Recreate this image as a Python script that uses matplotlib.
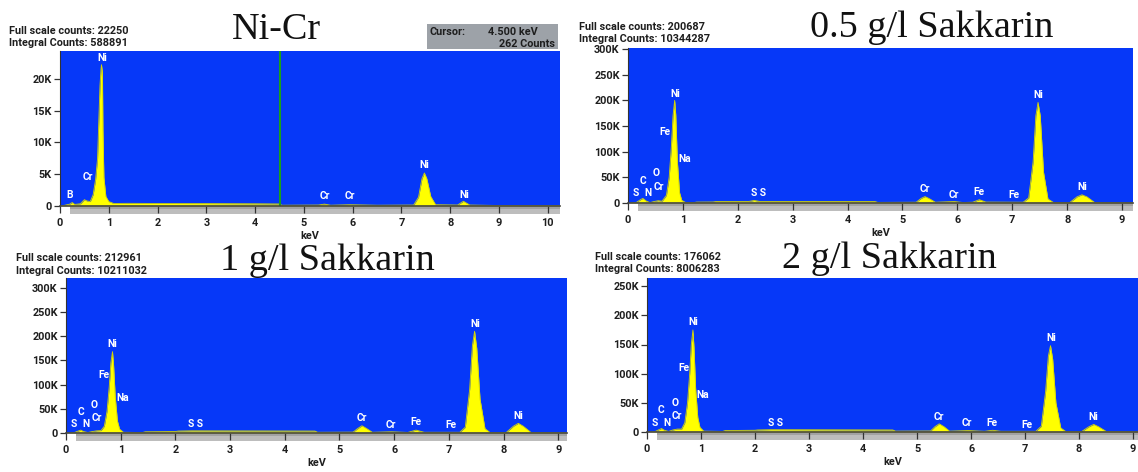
import matplotlib
matplotlib.use("Agg")
import matplotlib.pyplot as plt
from matplotlib.ticker import FuncFormatter
from matplotlib.patches import Rectangle

# EDS spectra: energy (keV) and counts for each coating
nicr_kev = [0.00, 0.10, 0.20, 0.25, 0.30, 0.42, 0.50, 0.55, 0.62, 0.68, 0.73, 0.77, 0.80, 0.82, 0.84,
            0.85, 0.87, 0.88, 0.90, 0.94, 1.00, 1.10, 1.40, 2.00, 3.00, 4.00, 4.50, 4.55, 5.30, 5.42,
            5.55, 5.94, 6.50, 7.25, 7.35, 7.42, 7.47, 7.52, 7.60, 7.70, 8.15, 8.27, 8.40, 9.00, 10.25]
nicr_counts = [0, 120, 300, 550, 250, 350, 1000, 800, 700, 1800, 4200, 7500, 14500, 19000, 21500,
               22250, 21000, 12000, 4500, 1500, 700, 400, 420, 400, 380, 350, 320, 120, 150, 300,
               120, 200, 120, 150, 1400, 4300, 5200, 4300, 1500, 200, 150, 750, 150, 80, 60]

s05_kev = [0.00, 0.15, 0.22, 0.27, 0.33, 0.40, 0.48, 0.55, 0.62, 0.70, 0.75, 0.79, 0.82, 0.85, 0.87,
           0.90, 0.94, 0.98, 1.05, 1.20, 1.25, 1.55, 1.60, 2.20, 2.30, 2.40, 4.50, 4.55, 5.25, 5.34,
           5.41, 5.48, 5.60, 5.85, 5.95, 6.10, 6.28, 6.40, 6.52, 7.20, 7.30, 7.38, 7.43, 7.47, 7.51,
           7.57, 7.65, 7.75, 8.05, 8.18, 8.27, 8.36, 8.50, 9.20]
s05_counts = [0, 1000, 6000, 9000, 4000, 800, 3000, 4500, 3500, 15000, 50000, 110000, 170000, 200000, 172000,
              80000, 20000, 5000, 1000, 800, 1800, 2000, 2800, 3000, 5000, 3000, 2800, 1200, 1500, 9000,
              12500, 9000, 1500, 2500, 2800, 1000, 1500, 6500, 1800, 1500, 10000, 80000, 170000, 196000, 170000,
              60000, 8000, 1000, 1000, 12000, 16000, 12000, 1000, 500]

s1_kev = [0.00, 0.15, 0.22, 0.27, 0.32, 0.40, 0.48, 0.56, 0.64, 0.70, 0.75, 0.79, 0.82, 0.85, 0.87,
          0.90, 0.94, 0.98, 1.05, 1.40, 1.45, 2.00, 2.05, 2.30, 4.55, 4.60, 5.25, 5.33, 5.41, 5.50,
          5.60, 5.95, 6.25, 6.40, 6.55, 7.20, 7.30, 7.38, 7.43, 7.47, 7.51, 7.57, 7.66, 7.75, 8.05,
          8.18, 8.27, 8.36, 8.50, 9.16]
s1_counts = [0, 800, 4000, 6000, 3000, 1000, 3000, 4500, 5000, 14000, 45000, 95000, 145000, 168000, 140000,
             75000, 25000, 8000, 1500, 1000, 2500, 3000, 4000, 4500, 4000, 1500, 1800, 9000, 15000, 9000,
             1500, 2500, 1200, 6000, 1500, 1500, 12000, 90000, 180000, 210000, 175000, 70000, 9000, 1200, 1200,
             14000, 20000, 14000, 1200, 500]

s2_kev = [0.00, 0.15, 0.22, 0.27, 0.32, 0.40, 0.48, 0.56, 0.64, 0.70, 0.75, 0.79, 0.82, 0.85, 0.87,
          0.90, 0.94, 0.98, 1.05, 1.40, 1.45, 2.00, 2.05, 2.30, 4.55, 4.60, 5.25, 5.33, 5.41, 5.50,
          5.60, 5.95, 6.25, 6.40, 6.55, 7.20, 7.30, 7.38, 7.43, 7.47, 7.51, 7.57, 7.66, 7.75, 8.05,
          8.18, 8.27, 8.36, 8.50, 9.09]
s2_counts = [0, 800, 4000, 6000, 3000, 1000, 3500, 5000, 5000, 16000, 50000, 100000, 150000, 175000, 145000,
             75000, 25000, 8000, 1500, 1000, 2500, 3000, 3500, 4000, 3500, 1500, 1800, 9000, 14000, 9000,
             1500, 2500, 1200, 3000, 1200, 1200, 10000, 70000, 130000, 148000, 125000, 50000, 7000, 1000, 1000,
             9000, 13000, 9000, 1000, 500]

# element markers: (symbol, keV, counts)
nicr_marks = [("B", 0.19, 1800), ("Cr", 0.57, 4500), ("Ni", 0.86, 23300), ("Cr", 5.42, 1600),
              ("Cr", 5.94, 1500), ("Ni", 7.47, 6500), ("Ni", 8.29, 1800)]
s05_marks = [("S", 0.15, 19000), ("N", 0.37, 19000), ("C", 0.27, 43000), ("O", 0.52, 58000),
             ("Cr", 0.57, 32000), ("Fe", 0.68, 138000), ("Ni", 0.86, 212000), ("Na", 1.04, 86000),
             ("S S", 2.38, 19000), ("Cr", 5.41, 27000), ("Cr", 5.94, 16000), ("Fe", 6.40, 21000),
             ("Fe", 7.04, 16000), ("Ni", 7.48, 210000), ("Ni", 8.27, 32000)]
s1_marks = [("S", 0.14, 18000), ("N", 0.37, 18000), ("C", 0.27, 44000), ("O", 0.52, 58000),
            ("Cr", 0.57, 31000), ("Fe", 0.70, 119000), ("Ni", 0.85, 183000), ("Na", 1.03, 72000),
            ("S S", 2.37, 18000), ("Cr", 5.41, 31000), ("Cr", 5.94, 17000), ("Fe", 6.39, 23000),
            ("Fe", 7.04, 17000), ("Ni", 7.48, 226000), ("Ni", 8.27, 35000)]
s2_marks = [("S", 0.14, 15000), ("N", 0.37, 15000), ("C", 0.26, 37000), ("O", 0.52, 49000),
            ("Cr", 0.56, 27000), ("Fe", 0.69, 110000), ("Ni", 0.85, 188000), ("Na", 1.03, 64000),
            ("S S", 2.38, 16000), ("Cr", 5.41, 26000), ("Cr", 5.93, 15000), ("Fe", 6.39, 15000),
            ("Fe", 7.04, 12000), ("Ni", 7.48, 161000), ("Ni", 8.27, 26000)]

titles = ["Ni-Cr", "0.5 g/l Sakkarin", "1 g/l Sakkarin", "2 g/l Sakkarin"]
full_scale = [22250, 200687, 212961, 176062]
integral = [588891, 10344287, 10211032, 8006283]

W, H = 1138, 472
BLUE = "#0638f8"
SANS = ["Roboto", "DejaVu Sans"]
SMALL = 7.8
INK = "#1e1e1e"


def px(x, y):
    return x / W, 1 - y / H


def k_fmt(v, pos):
    return "0" if v == 0 else "%dK" % round(v / 1000)


def draw_panel(ax, kev, counts, marks, xmax, ymax, yticks, xticks):
    ax.set_facecolor(BLUE)
    ax.fill_between(kev, counts, 0, color="#ffff00", lw=0, zorder=2)
    ax.plot(kev, counts, color="#d6d600", lw=0.6, zorder=2)
    for name, x, y in marks:
        ax.text(x, y, name, color="white", fontsize=7.4, fontweight="bold",
                family=SANS, ha="center", va="center", zorder=3)
    ax.set_xlim(0, xmax)
    ax.set_ylim(0, ymax)
    ax.set_xticks(xticks)
    ax.set_yticks(yticks)
    ax.yaxis.set_major_formatter(FuncFormatter(k_fmt))
    ax.spines["top"].set_visible(False)
    ax.spines["right"].set_visible(False)
    ax.spines["left"].set_color("#333333")
    ax.spines["left"].set_linewidth(0.8)
    ax.spines["bottom"].set_color("#444444")
    ax.spines["bottom"].set_linewidth(1.2)
    ax.tick_params(direction="out", length=4, width=0.9, color="#333333",
                   labelsize=SMALL, pad=2, labelcolor=INK)
    ax.tick_params(axis="x", length=5, pad=3.5)
    for lab in ax.get_xticklabels() + ax.get_yticklabels():
        lab.set_fontweight("bold")
        lab.set_family(SANS)
    ax.set_xlabel("keV", fontsize=SMALL, fontweight="bold", family=SANS, labelpad=2.5, color=INK)
    # grey drop shadow under the spectrum window
    ax.add_patch(Rectangle((0.02, -0.05), 0.98, 0.05, transform=ax.transAxes,
                           color="#bdbdbd", lw=0, clip_on=False, zorder=0))
    ax.add_patch(Rectangle((0.02, -0.02), 0.98, 0.02, transform=ax.transAxes,
                           color="#a2a2a2", lw=0, clip_on=False, zorder=0))


fig = plt.figure(figsize=(W / 100, H / 100), dpi=100)
fig.patch.set_facecolor("white")

boxes = [(60, 51, 560, 206), (628, 48, 1133, 203), (66, 278, 567, 433), (647, 278, 1138, 432)]
axes = []
for (x0, y0, x1, y1) in boxes:
    axes.append(fig.add_axes([x0 / W, 1 - y1 / H, (x1 - x0) / W, (y1 - y0) / H]))

draw_panel(axes[0], nicr_kev, nicr_counts, nicr_marks, 10.25, 24400,
           range(0, 20001, 5000), range(0, 11))
draw_panel(axes[1], s05_kev, s05_counts, s05_marks, 9.2, 302000,
           range(0, 300001, 50000), range(0, 10))
draw_panel(axes[2], s1_kev, s1_counts, s1_marks, 9.16, 320000,
           range(0, 300001, 50000), range(0, 10))
draw_panel(axes[3], s2_kev, s2_counts, s2_marks, 9.09, 264000,
           range(0, 250001, 50000), range(0, 10))

# cursor marker on the Ni-Cr spectrum
axes[0].axvline(4.5, color="#1aa01a", lw=1.5, zorder=2.5)

# panel headings
title_pos = [(276, 39), (932, 37), (327, 270), (889, 268)]
for t, (x, y) in zip(titles, title_pos):
    fig.text(*px(x, y), t, family=["Liberation Serif", "DejaVu Serif"], fontsize=27.5,
             ha="center", va="baseline", color="#111111")

info_pos = [(9, 31), (579, 27), (16, 258), (595, 257)]
for fs, ic, (x, y) in zip(full_scale, integral, info_pos):
    fig.text(*px(x, y), "Full scale counts: %d" % fs, family=SANS, fontsize=SMALL,
             fontweight="bold", va="center", color=INK)
    fig.text(*px(x, y + 12.5), "Integral Counts: %d" % ic, family=SANS, fontsize=SMALL,
             fontweight="bold", va="center", color=INK)

# cursor read-out box
fig.patches.append(Rectangle(px(427, 49), 131 / W, 25 / H, transform=fig.transFigure,
                             facecolor="#9da2a8", edgecolor="none"))
fig.text(*px(429, 32), "Cursor:", family=SANS, fontsize=SMALL, fontweight="bold",
         va="center", color=INK)
fig.text(*px(538, 32), "4.500 keV", family=SANS, fontsize=SMALL, fontweight="bold",
         va="center", ha="right", color=INK)
fig.text(*px(555, 44), "262 Counts", family=SANS, fontsize=SMALL, fontweight="bold",
         va="center", ha="right", color=INK)

fig.savefig("out.png", dpi=100)
